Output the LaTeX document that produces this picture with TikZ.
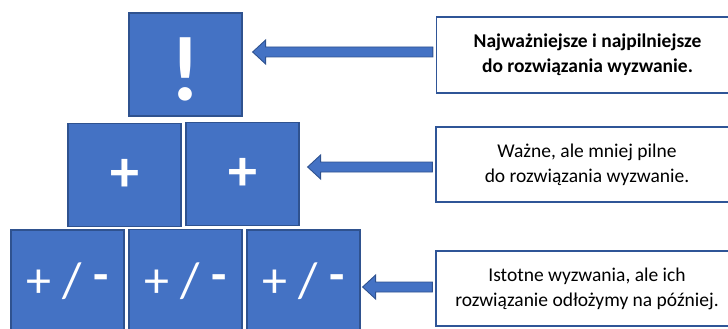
\documentclass[tikz,border=0pt]{standalone}
\usepackage{fontspec}
\setmainfont{Carlito}
\usetikzlibrary{calc}
\definecolor{boxblue}{HTML}{4472C4}
\definecolor{edgeblue}{HTML}{2F528F}
\definecolor{textedge}{HTML}{2F5597}
\begin{document}
\begin{tikzpicture}[x=1pt,y=-1pt,
  blk/.style={draw=edgeblue, fill=boxblue, line width=1.2pt, minimum width=113pt, minimum height=103pt, inner sep=0pt, text=white},
  txtbox/.style={draw=textedge, fill=white, line width=1.4pt, minimum width=302pt, inner sep=0pt, align=center, font=\fontsize{19.5}{25}\selectfont},
  blockarrow/.style={draw=edgeblue, fill=boxblue, line width=0.9pt, line join=miter}]
\useasboundingbox (0,0) rectangle (728,329);
% pyramid
\node[blk, font=\fontsize{92}{92}\selectfont\bfseries] (b1) at (185.5,64.5) {\raisebox{-36pt}[0pt][0pt]{!}};
\node[blk, font=\fontsize{58}{58}\selectfont\bfseries] (b2a) at (124.5,175) {\raisebox{-2pt}{+}};
\node[blk, font=\fontsize{58}{58}\selectfont\bfseries] (b2b) at (242.5,174) {\raisebox{-2pt}{+}};
\node[blk, font=\fontsize{50}{50}\selectfont] (b3a) at (67.5,281.5) {\raisebox{-6pt}{+ / \raisebox{6pt}{\bfseries -}}};
\node[blk, font=\fontsize{50}{50}\selectfont] (b3b) at (185.5,281) {\raisebox{-6pt}{+ / \raisebox{6pt}{\bfseries -}}};
\node[blk, font=\fontsize{50}{50}\selectfont] (b3c) at (303.5,281.5) {\raisebox{-6pt}{+ / \raisebox{6pt}{\bfseries -}}};
% text boxes
\node[txtbox, minimum height=76pt] (t1) at (587.5,55) {\bfseries Najważniejsze i najpilniejsze\\\bfseries do rozwiązania wyzwanie.};
\node[txtbox, minimum height=75pt] (t2) at (587,164.5) {Ważne, ale mniej pilne\\do rozwiązania wyzwanie.};
\node[txtbox, minimum height=75pt] (t3) at (587,288.5) {Istotne wyzwania, ale ich\\rozwiązanie odłożymy na później.};
% arrows
\foreach \t/\b/\dy/\gap in {t1/b1/-3/10, t2/b2b/2.5/8, t3/b3c/-1.5/2}{
  \path let \p1=($(\t.west)+(-3,\dy)$), \p2=($(\b.east)+(\gap,0)$) in
    [blockarrow] (\x1,\y1-5pt) -- (\x2+13pt,\y1-5pt) -- (\x2+13pt,\y1-12pt) -- (\x2,\y1)
    -- (\x2+13pt,\y1+12pt) -- (\x2+13pt,\y1+5pt) -- (\x1,\y1+5pt) -- cycle;
}
\end{tikzpicture}
\end{document}
